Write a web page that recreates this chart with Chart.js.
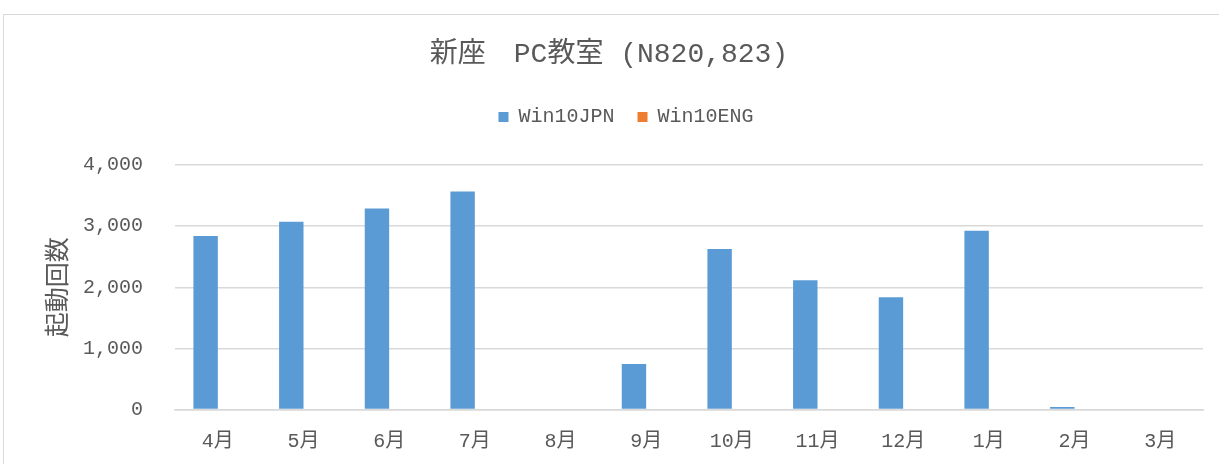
<!DOCTYPE html>
<html>
<head>
    <title>新座 PC教室</title>
    <script src="https://cdn.jsdelivr.net/npm/chart.js"></script>
    <style>
        html, body {
            margin: 0;
            padding: 0;
            background: #ffffff;
            overflow: hidden;
        }
        .frame {
            position: absolute;
            left: 3px;
            top: 14px;
            width: 1230px;
            height: 470px;
            border: 1px solid #d9d9d9;
            box-sizing: border-box;
        }
        .chart-container {
            position: absolute;
            left: 0;
            top: 0;
            width: 1219px;
            height: 464px;
        }
    </style>
</head>
<body>
    <div class="frame"></div>
    <div class="chart-container">
        <canvas id="bootChart"></canvas>
    </div>

    <script>
        // values
        const months = ['4月', '5月', '6月', '7月', '8月', '9月', '10月', '11月', '12月', '1月', '2月', '3月'];
        const win10jpn = [2840, 3070, 3290, 3565, 0, 745, 2627, 2114, 1836, 2926, 40, 0];
        const win10eng = [0, 0, 0, 0, 0, 0, 0, 0, 0, 0, 0, 0];
        const yTicks = [0, 1000, 2000, 3000, 4000];

        const textColor = '#595959';
        const monoFont = '"Liberation Mono", "Noto Sans CJK JP", monospace';

        // nudge title / legend boxes like the Excel layout (legend sits higher above the plot)
        const boxNudge = {
            id: 'boxNudge',
            afterLayout(chart) {
                const t = chart.titleBlock;
                if (t) { t.left -= 8; t.right -= 8; }
                const l = chart.legend;
                if (l) { l.left += 9; l.right += 9; l.top -= 28; l.bottom -= 28; }
            }
        };

        new Chart(document.getElementById('bootChart'), {
            type: 'bar',
            data: {
                labels: months,
                datasets: [{
                    label: 'Win10JPN',
                    data: win10jpn,
                    backgroundColor: '#5b9bd5',
                    borderWidth: 0
                }, {
                    label: 'Win10ENG',
                    data: win10eng,
                    backgroundColor: '#ed7d31',
                    borderWidth: 0
                }]
            },
            options: {
                responsive: true,
                maintainAspectRatio: false,
                animation: false,
                categoryPercentage: 0.57,
                barPercentage: 1.0,
                layout: {
                    padding: {left: 31, right: 16, top: 0, bottom: 12}
                },
                plugins: {
                    title: {
                        display: true,
                        text: '新座　PC教室 (N820,823)',
                        color: textColor,
                        font: {family: monoFont, size: 28, weight: 'normal'},
                        padding: {top: 38, bottom: 40.4}
                    },
                    legend: {
                        display: true,
                        labels: {
                            color: textColor,
                            font: {family: monoFont, size: 20},
                            boxWidth: 10,
                            boxHeight: 10,
                            padding: 23
                        }
                    },
                    tooltip: {enabled: false}
                },
                scales: {
                    x: {
                        afterFit: (axis) => { axis.height = 42.5; },
                        grid: {display: false, drawTicks: false},
                        border: {display: true, color: '#d9d9d9', width: 1.5},
                        ticks: {
                            color: textColor,
                            font: {family: monoFont, size: 20},
                            padding: 20,
                            maxRotation: 0
                        }
                    },
                    y: {
                        min: 0,
                        max: 4000,
                        afterBuildTicks: (axis) => {
                            axis.ticks = yTicks.map(v => ({value: v}));
                        },
                        afterFit: (axis) => { axis.width = 144; },
                        grid: {color: '#d9d9d9', lineWidth: 1.5, drawTicks: false},
                        border: {display: false},
                        ticks: {
                            color: textColor,
                            font: {family: monoFont, size: 20},
                            padding: 32,
                            callback: (v) => v.toLocaleString('en-US')
                        },
                        title: {
                            display: true,
                            text: '起動回数',
                            color: textColor,
                            font: {family: '"Noto Sans CJK JP", sans-serif', size: 25},
                            padding: 10
                        }
                    }
                }
            },
            plugins: [boxNudge]
        });
    </script>
</body>
</html>
